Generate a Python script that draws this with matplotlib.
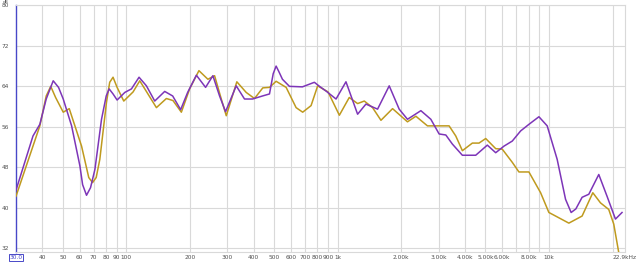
import matplotlib
matplotlib.use("Agg")
import matplotlib.pyplot as plt
from matplotlib.transforms import blended_transform_factory

# ---- data ----
purple_freq = [30, 36.1, 38.9, 41.7, 45.0, 47.7, 50.2, 55.0, 60.2, 62.0, 64.7, 67.6, 70.9,
               76.2, 80.2, 82.8, 86.4, 90.3, 98.2,
               105.6, 114.7, 124.3, 136.1, 151.7, 165.5, 180.5, 194.8, 214.2, 236.9, 256.5,
               275.9, 294.5, 330.8, 362.1, 395.0, 440.4, 475.3, 495, 511.0, 528, 547.4, 590.7,
               680.4, 775.3, 820, 885, 981.8, 1094, 1242, 1360, 1544, 1753, 1954, 2139, 2475,
               2759, 3020, 3248, 3490, 3890, 4500, 5107, 5595, 6124, 6703, 7342, 8036, 8962,
               9806, 10932, 11979, 12732, 13400, 14349, 15436, 17208, 18830, 20637, 22170]
purple_db = [43.5, 54.2, 56.5, 61.5, 65.1, 63.8, 61.5, 56.2, 48.3, 44.6, 42.5, 44.0, 47.6,
             57.5, 62.1, 63.5, 62.5, 61.3, 62.8,
             63.5, 65.8, 64.1, 61.1, 63.0, 62.1, 59.4, 62.8, 66.2, 63.8, 66.1,
             62.1, 59.0, 64.1, 61.5, 61.5, 62.1, 62.5, 66.5, 68.0, 66.8, 65.4, 64.0,
             63.9, 64.8, 64.0, 63.0, 61.5, 64.9, 58.5, 60.5, 59.5, 64.1, 59.5, 57.5, 59.2,
             57.5, 54.6, 54.4, 52.6, 50.4, 50.4, 52.4, 50.9, 52.2, 53.2, 55.2, 56.5, 58.0,
             56.2, 49.6, 41.7, 39.1, 39.8, 42.1, 42.7, 46.6, 42.3, 37.8, 39.1]

yellow_freq = [30, 38.9, 41.7, 43.8, 46.2, 50.2, 53.6, 61.3, 66.3, 69.1, 71.9, 74.8, 80.4,
               83.3, 86.4, 90.3, 97.1, 107.5, 115.6,
               138.6, 154.5, 166.0, 181.9, 199.1, 220.3, 242.9, 261.3, 281.1, 296.8, 333.0,
               368.8, 403.7, 441.9, 475.3, 511.0, 569.9, 635.3, 682.6, 747.9, 803.6, 900,
               1018, 1134, 1242, 1336, 1462, 1602, 1818, 2139, 2344, 2659, 3020, 3367, 3621,
               3891, 4338, 4665, 5018, 5595, 6010, 6703, 7207, 8036, 9128, 9989, 10745,
               12417, 14349, 16123, 17532, 19180, 20260, 21391, 22000]
yellow_db = [42.3, 56.2, 62.1, 64.0, 61.8, 58.9, 59.6, 52.2, 46.0, 45.0, 46.0, 49.6, 60.8,
             64.8, 65.8, 63.8, 61.1, 62.9, 65.1,
             59.8, 61.6, 61.2, 58.9, 63.5, 67.1, 65.4, 66.1, 61.5, 58.2, 64.9,
             62.8, 61.6, 63.7, 63.8, 65.0, 63.8, 59.8, 58.9, 60.2, 64.1, 62.9,
             58.3, 61.8, 60.6, 61.1, 59.8, 57.3, 59.6, 57.0, 58.1, 56.2, 56.2, 56.2, 54.2,
             51.3, 52.8, 52.8, 53.7, 51.7, 51.6, 49.0, 47.1, 47.1, 43.0, 39.1, 38.4,
             37.0, 38.4, 43.0, 41.0, 39.7, 36.8, 31.2, 28.0]

x_ticks = [40, 50, 60, 70, 80, 90, 100, 200, 300, 400, 500, 600, 700, 800, 900, 1000,
           2000, 3000, 4000, 5000, 6000, 7000, 8000, 9000, 10000, 20000, 22900]
x_labels = ["40", "50", "60", "70", "80", "90", "100", "200", "300", "400", "500", "600",
            "700", "800", "900", "1k", "2.00k", "3.00k", "4.00k", "5.00k", "6.00k", "",
            "8.00k", "", "10k", "", "22.9kHz"]
y_ticks = [32, 40, 48, 56, 64, 72, 80]
y_labels = ["32", "40", "48", "56", "64", "72", "80"]

PURPLE = "#7d35b8"
YELLOW = "#bf9a1e"
GRID = "#d9d9d9"
TXT = "#505050"
BLUE = "#4848c8"

fig = plt.figure(figsize=(6.4, 2.63), dpi=100)
ax = fig.add_axes([16 / 640, 1 - 252 / 263, (625 - 16) / 640, (252 - 5) / 263])
ax.set_xscale("log")
ax.set_xlim(30, 22900)
ax.set_ylim(31.3, 80.06)

ax.set_xticks(x_ticks)
ax.set_xticklabels(x_labels)
ax.minorticks_off()
ax.set_yticks(y_ticks)
ax.set_yticklabels(y_labels)
ax.tick_params(axis="both", length=0, labelsize=4.2, colors=TXT)
ax.tick_params(axis="x", pad=2)
ax.tick_params(axis="y", pad=5)

for t in x_ticks:
    if t < 22900:
        ax.axvline(t, color=GRID, lw=0.8, zorder=0)
for t in y_ticks:
    ax.axhline(t, color=GRID, lw=0.8, zorder=0)

ax.plot(yellow_freq, yellow_db, color=YELLOW, lw=1.1, solid_joinstyle="round", zorder=3)
ax.plot(purple_freq, purple_db, color=PURPLE, lw=1.1, solid_joinstyle="round", zorder=4)

for s in ["top", "right", "bottom"]:
    ax.spines[s].set_color(GRID)
    ax.spines[s].set_linewidth(0.8)
ax.spines["left"].set_color(BLUE)
ax.spines["left"].set_linewidth(1.0)

tr = blended_transform_factory(ax.transData, ax.transAxes)
ax.text(30, -0.012, "30.0", transform=tr, ha="center", va="top", fontsize=4.2,
        color=BLUE, bbox=dict(boxstyle="square,pad=0.15", fc="white", ec=BLUE, lw=0.7),
        clip_on=False)
fig.text(6 / 640, 1.0, "dB", fontsize=3.2, color=TXT, ha="center", va="top")

fig.savefig("out.png", dpi=100)
